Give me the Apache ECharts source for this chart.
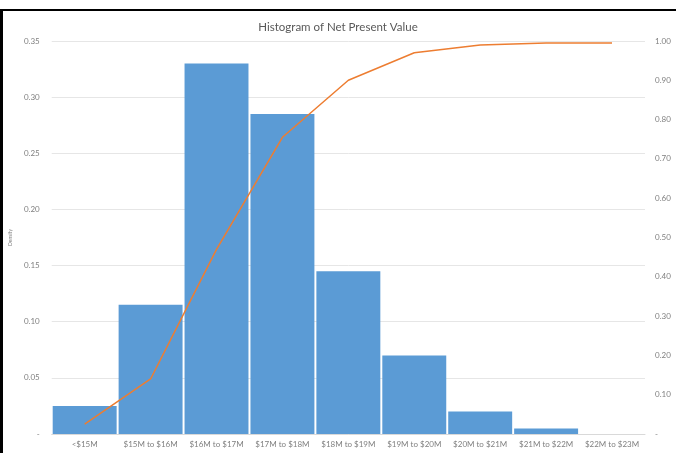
<!DOCTYPE html>
<html><head><meta charset="utf-8">
<script src="https://cdn.jsdelivr.net/npm/echarts@6/dist/echarts.min.js"></script>
<style>html,body{margin:0;padding:0;background:#fff}#c{width:676px;height:453px}</style>
</head><body><div id="c"></div>
<script>
const categories = ['<$15M','$15M to $16M','$16M to $17M','$17M to $18M','$18M to $19M','$19M to $20M','$20M to $21M','$21M to $22M','$22M to $23M'];
const density = [0.025, 0.115, 0.33, 0.285, 0.145, 0.07, 0.02, 0.005, 0];
const cumulative = [0.025, 0.14, 0.47, 0.755, 0.90, 0.97, 0.99, 0.995, 0.995];
const leftTicks = [0, 0.05, 0.10, 0.15, 0.20, 0.25, 0.30, 0.35];
const rightTicks = [0, 0.1, 0.2, 0.3, 0.4, 0.5, 0.6, 0.7, 0.8, 0.9, 1.0];

const chart = echarts.init(document.getElementById('c'), null, {renderer:'canvas'});
const fmt = v => (Math.abs(v) < 1e-9 ? '-' : v.toFixed(2));
const FONT = 'Lato';
chart.setOption({
  animation: false,
  title: { text: 'Histogram of Net Present Value', left: 'center', top: 16,
    textStyle: { fontFamily: FONT, fontSize: 11.5, fontWeight: 'normal', color: '#595959' } },
  graphic: [
    { type: 'rect', shape: { x: 0, y: 9, width: 676, height: 2 }, style: { fill: '#000' } },
    { type: 'rect', shape: { x: 0, y: 9, width: 3, height: 444 }, style: { fill: '#000' } }
  ],
  grid: { left: 50, right: 31, top: 41, bottom: 19 },
  xAxis: { type: 'category', data: categories,
    axisLine: { lineStyle: { color: '#d9d9d9' } }, axisTick: { show: false },
    axisLabel: { fontFamily: FONT, fontSize: 8, color: '#7f7f7f', margin: 6, interval: 0 } },
  yAxis: [
    { type: 'value', min: leftTicks[0], max: leftTicks[leftTicks.length-1], interval: 0.05,
      name: 'Density', nameLocation: 'middle', nameGap: 36, nameRotate: 90,
      nameTextStyle: { fontFamily: FONT, fontSize: 5, color: '#7f7f7f' },
      axisLine: { show: false }, axisTick: { show: false },
      axisLabel: { fontFamily: FONT, fontSize: 8, color: '#7f7f7f', margin: 12, formatter: fmt },
      splitLine: { lineStyle: { color: '#e6e6e6', width: 1 } } },
    { type: 'value', min: rightTicks[0], max: rightTicks[rightTicks.length-1], interval: 0.1,
      axisLine: { show: false }, axisTick: { show: false },
      axisLabel: { fontFamily: FONT, fontSize: 8, color: '#7f7f7f', margin: 10, formatter: fmt },
      splitLine: { show: false } }
  ],
  series: [
    { type: 'bar', data: density, barCategoryGap: '3%', itemStyle: { color: '#5B9BD5' }, yAxisIndex: 0 },
    { type: 'line', data: cumulative, yAxisIndex: 1, symbol: 'none',
      lineStyle: { color: '#ED7D31', width: 1.5 } }
  ]
});
</script></body></html>
